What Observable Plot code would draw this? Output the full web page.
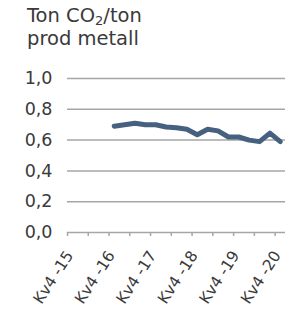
<!DOCTYPE html>
<html>
<head>
<meta charset="utf-8">
<script src="https://cdn.jsdelivr.net/npm/d3@7"></script>
<script src="https://cdn.jsdelivr.net/npm/@observablehq/plot@0.6"></script>
<style>
  html, body { margin: 0; padding: 0; background: #fff; }
  #wrap { width: 285px; height: 310px; overflow: hidden; font-family: "DejaVu Sans", sans-serif; }
  #title { height: 56px; padding: 4px 0 0 27px; box-sizing: border-box; font-size: 19.5px; line-height: 23px; color: #3a3a3a; }
  #title sub { font-size: 13px; vertical-align: -3px; line-height: 0; }
  svg { display: block; }
</style>
</head>
<body>
<div id="wrap">
  <div id="title">Ton CO<sub>2</sub>/ton<br>prod metall</div>
  <div id="chart"></div>
</div>
<script>
const quarters = ["Kv4-15","Kv1-16","Kv2-16","Kv3-16","Kv4-16","Kv1-17","Kv2-17","Kv3-17","Kv4-17",
  "Kv1-18","Kv2-18","Kv3-18","Kv4-18","Kv1-19","Kv2-19","Kv3-19","Kv4-19","Kv1-20","Kv2-20","Kv3-20","Kv4-20"];
const values = [null,null,null,null,0.69,0.70,0.71,0.70,0.70,0.685,0.68,0.67,0.635,0.67,0.66,0.62,0.62,0.60,0.59,0.645,0.59];
const labelQuarters = ["Kv4-15","Kv4-16","Kv4-17","Kv4-18","Kv4-19","Kv4-20"];
const labelTexts = ["Kv4 -15","Kv4 -16","Kv4 -17","Kv4 -18","Kv4 -19","Kv4 -20"];
const tickQuarters = ["Kv4-15","Kv2-16","Kv4-16","Kv2-17","Kv4-17","Kv2-18","Kv4-18","Kv2-19","Kv4-19","Kv2-20","Kv4-20"];
const yTicks = [0, 0.2, 0.4, 0.6, 0.8, 1.0];

const data = quarters.map((q, i) => ({q, i, v: values[i]})).filter(d => d.v != null);
const idx = q => quarters.indexOf(q);
const labels = labelQuarters.map((q, k) => ({i: idx(q), t: labelTexts[k]}));
const ticks = tickQuarters.map(q => idx(q));
const fmt = d => d.toFixed(1).replace(".", ",");

const chart = Plot.plot({
  width: 285,
  height: 254,
  marginLeft: 67,
  marginRight: 0,
  marginTop: 22,
  marginBottom: 78,
  style: {fontFamily: "DejaVu Sans, sans-serif", color: "#3a3a3a", background: "transparent", overflow: "visible"},
  x: {type: "linear", domain: [0, quarters.length], axis: null},
  y: {domain: [0, 1], axis: null},
  marks: [
    Plot.ruleY(yTicks, {stroke: "#a6a6a6", strokeWidth: 1.5}),
    Plot.ruleX(ticks, {x: d => d, y1: 0, y2: -0.026, stroke: "#a6a6a6", strokeWidth: 1.5}),
    Plot.text(yTicks, {x: 0, y: d => d, text: fmt, textAnchor: "end", dx: -15, fontSize: 17.5, fill: "#3a3a3a"}),
    Plot.line(data, {x: d => d.i + 0.5, y: "v", stroke: "#46617f", strokeWidth: 5, strokeLinejoin: "round", strokeLinecap: "round"}),
    Plot.text(labels, {x: d => d.i + 0.5, y: 0, text: "t", rotate: -57, textAnchor: "end", lineAnchor: "middle", dx: -3, dy: 20, fontSize: 15.5, fill: "#3a3a3a"})
  ]
});
document.getElementById("chart").appendChild(chart);
</script>
</body>
</html>
